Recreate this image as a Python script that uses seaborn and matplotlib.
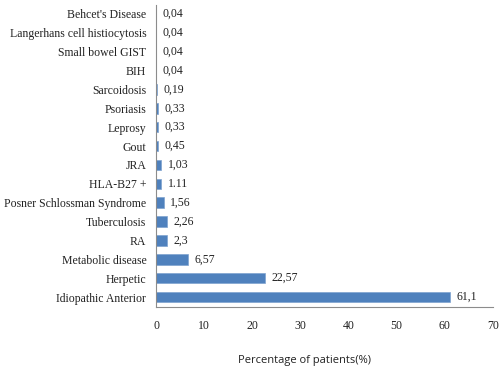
import matplotlib
matplotlib.use('Agg')
import matplotlib.pyplot as plt
import seaborn as sns
import pandas as pd

categories = ["Behcet's Disease", 'Langerhans cell histiocytosis', 'Small bowel GIST', 'BIH',
              'Sarcoidosis', 'Psoriasis', 'Leprosy', 'Gout', 'JRA', 'HLA-B27 +',
              'Posner Schlossman Syndrome', 'Tuberculosis', 'RA', 'Metabolic disease',
              'Herpetic', 'Idiopathic Anterior']
values = [0.04, 0.04, 0.04, 0.04, 0.19, 0.33, 0.33, 0.45, 1.03, 1.11,
          1.56, 2.26, 2.3, 6.57, 22.57, 61.1]
value_labels = ['0,04', '0,04', '0,04', '0,04', '0,19', '0,33', '0,33', '0,45', '1,03', '1.11',
                '1,56', '2,26', '2,3', '6,57', '22,57', '61,1']
xticks = [0, 10, 20, 30, 40, 50, 60, 70]

df = pd.DataFrame({'cause': categories, 'pct': values})

sns.set_style('white')
serif = ['Liberation Serif', 'DejaVu Serif']
fs = 8.5

fig = plt.figure(figsize=(5, 3.68), dpi=100)
ax = fig.add_axes([156 / 500, 1 - 306.5 / 368, 337 / 500, 302 / 368])

sns.barplot(data=df, x='pct', y='cause', orient='h', color='#4F81BD', saturation=1,
            width=0.55, edgecolor='#7FA3D0', linewidth=0.5, ax=ax)

for i, (v, t) in enumerate(zip(values, value_labels)):
    ax.text(v + 1.4, i, t, va='center', ha='left', fontsize=fs, family=serif, color='#222222')

ax.set_xlim(0, 70)
ax.set_xticks(xticks)
ax.set_xticklabels([str(x) for x in xticks], family=serif, fontsize=fs, color='#222222')
ax.set_yticklabels(categories, family=serif, fontsize=fs, color='#222222')
ax.tick_params(axis='both', length=0)
ax.tick_params(axis='x', pad=10)
ax.tick_params(axis='y', pad=7)
ax.set_ylabel('')
ax.set_xlabel('Percentage of patients(%)', family=['Open Sans', 'DejaVu Sans'], fontsize=8, color='#222222')
ax.xaxis.set_label_coords((304 - 156) / 337, -48 / 302)

for s in ['top', 'right']:
    ax.spines[s].set_visible(False)
for s in ['left', 'bottom']:
    ax.spines[s].set_color('#8C8C8C')
    ax.spines[s].set_linewidth(0.8)

fig.savefig('out.png', dpi=100)
